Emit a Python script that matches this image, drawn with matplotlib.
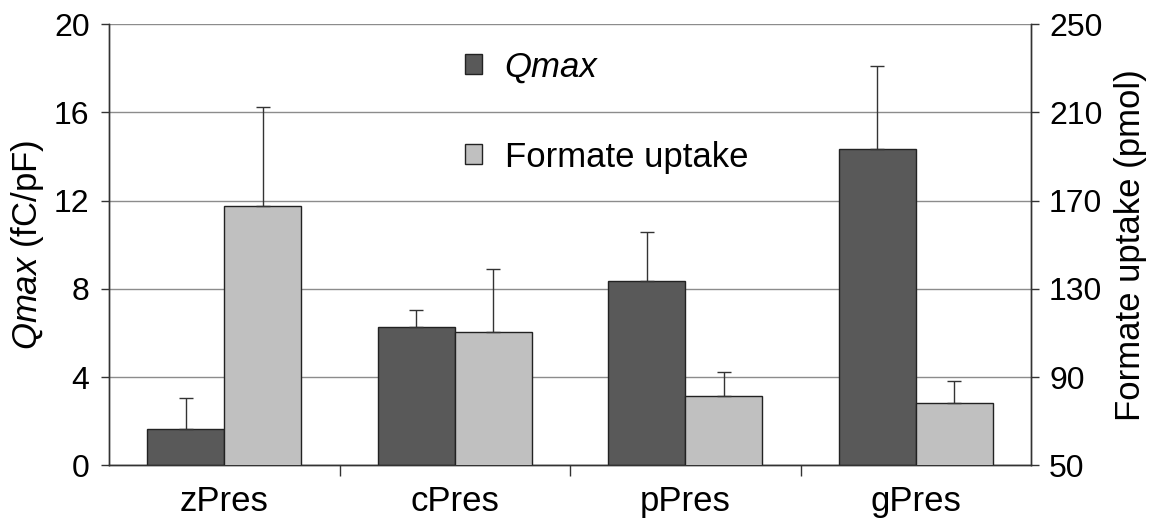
import numpy as np
import matplotlib
matplotlib.use('Agg')
import matplotlib.pyplot as plt
from matplotlib.patches import Patch

plt.rcParams['font.family'] = ['Liberation Sans', 'DejaVu Sans']
plt.rcParams['mathtext.fontset'] = 'custom'
plt.rcParams['mathtext.rm'] = 'Liberation Sans'
plt.rcParams['mathtext.it'] = 'Liberation Sans:italic'

# Data
groups = ['zPres', 'cPres', 'pPres', 'gPres']
qmax = [1.63, 6.27, 8.37, 14.36]          # fC/pF
qmax_err = [1.41, 0.76, 2.20, 3.75]
formate = [167.6, 110.3, 81.3, 78.4]       # pmol
formate_err = [44.9, 28.9, 11.0, 10.0]

dark = '#595959'
light = '#c0c0c0'
edge = '#222222'

fig = plt.figure(figsize=(11.56, 5.19), dpi=100)
ax = fig.add_axes([0.0943, 0.1035, 0.7976, 0.8497])
ax2 = ax.twinx()

x = np.arange(len(groups))
w = 1 / 3

ax.bar(x - w / 2, qmax, w, color=dark, edgecolor=edge, linewidth=1,
       yerr=[np.zeros(len(qmax)), qmax_err], capsize=5,
       error_kw=dict(elinewidth=1, capthick=1, ecolor='#333333'), zorder=3)
ax2.bar(x + w / 2, formate, w, bottom=0, color=light, edgecolor=edge, linewidth=1,
        yerr=[np.zeros(len(formate)), formate_err], capsize=5,
        error_kw=dict(elinewidth=1, capthick=1, ecolor='#333333'), zorder=3)

ax.set_xlim(-0.5, 3.5)
ax.set_ylim(0, 20)
ax2.set_ylim(50, 250)
ax.set_yticks(np.arange(0, 21, 4))
ax2.set_yticks(np.arange(50, 251, 40))

# gridlines follow the left axis
ax.yaxis.grid(True, color='#8c8c8c', linewidth=1)
ax.set_axisbelow(True)

# group labels centred, tick marks between groups
ax.set_xticks(x)
ax.set_xticklabels(groups, fontsize=25)
ax.tick_params(axis='x', which='major', length=0, pad=14)
ax.set_xticks(np.arange(0.5, 3.5, 1), minor=True)
ax.tick_params(axis='x', which='minor', length=8, width=1, color='#333333')

ax.tick_params(axis='y', labelsize=23, length=6, width=1, color='#333333', pad=8)
ax2.tick_params(axis='y', labelsize=23, length=6, width=1, color='#333333', pad=7)

for a in (ax, ax2):
    a.spines['top'].set_visible(False)
    for s in ('left', 'right', 'bottom'):
        a.spines[s].set_color('#333333')
        a.spines[s].set_linewidth(1)

ax.set_ylabel(r'$\mathit{Qmax}$ (fC/pF)', fontsize=25, labelpad=6)
ax2.set_ylabel('Formate uptake (pmol)', fontsize=25, labelpad=8)

handles = [Patch(facecolor=dark, edgecolor=edge, linewidth=1),
           Patch(facecolor=light, edgecolor=edge, linewidth=1)]
leg = ax2.legend(handles, ['Qmax', 'Formate uptake'], loc='upper left',
                 bbox_to_anchor=(0.352, 1.012), frameon=False, fontsize=25,
                 handlelength=0.5, handleheight=0.5, handletextpad=0.65,
                 labelspacing=1.65)
leg.get_texts()[0].set_fontstyle('italic')

fig.savefig('out.png', dpi=100)
